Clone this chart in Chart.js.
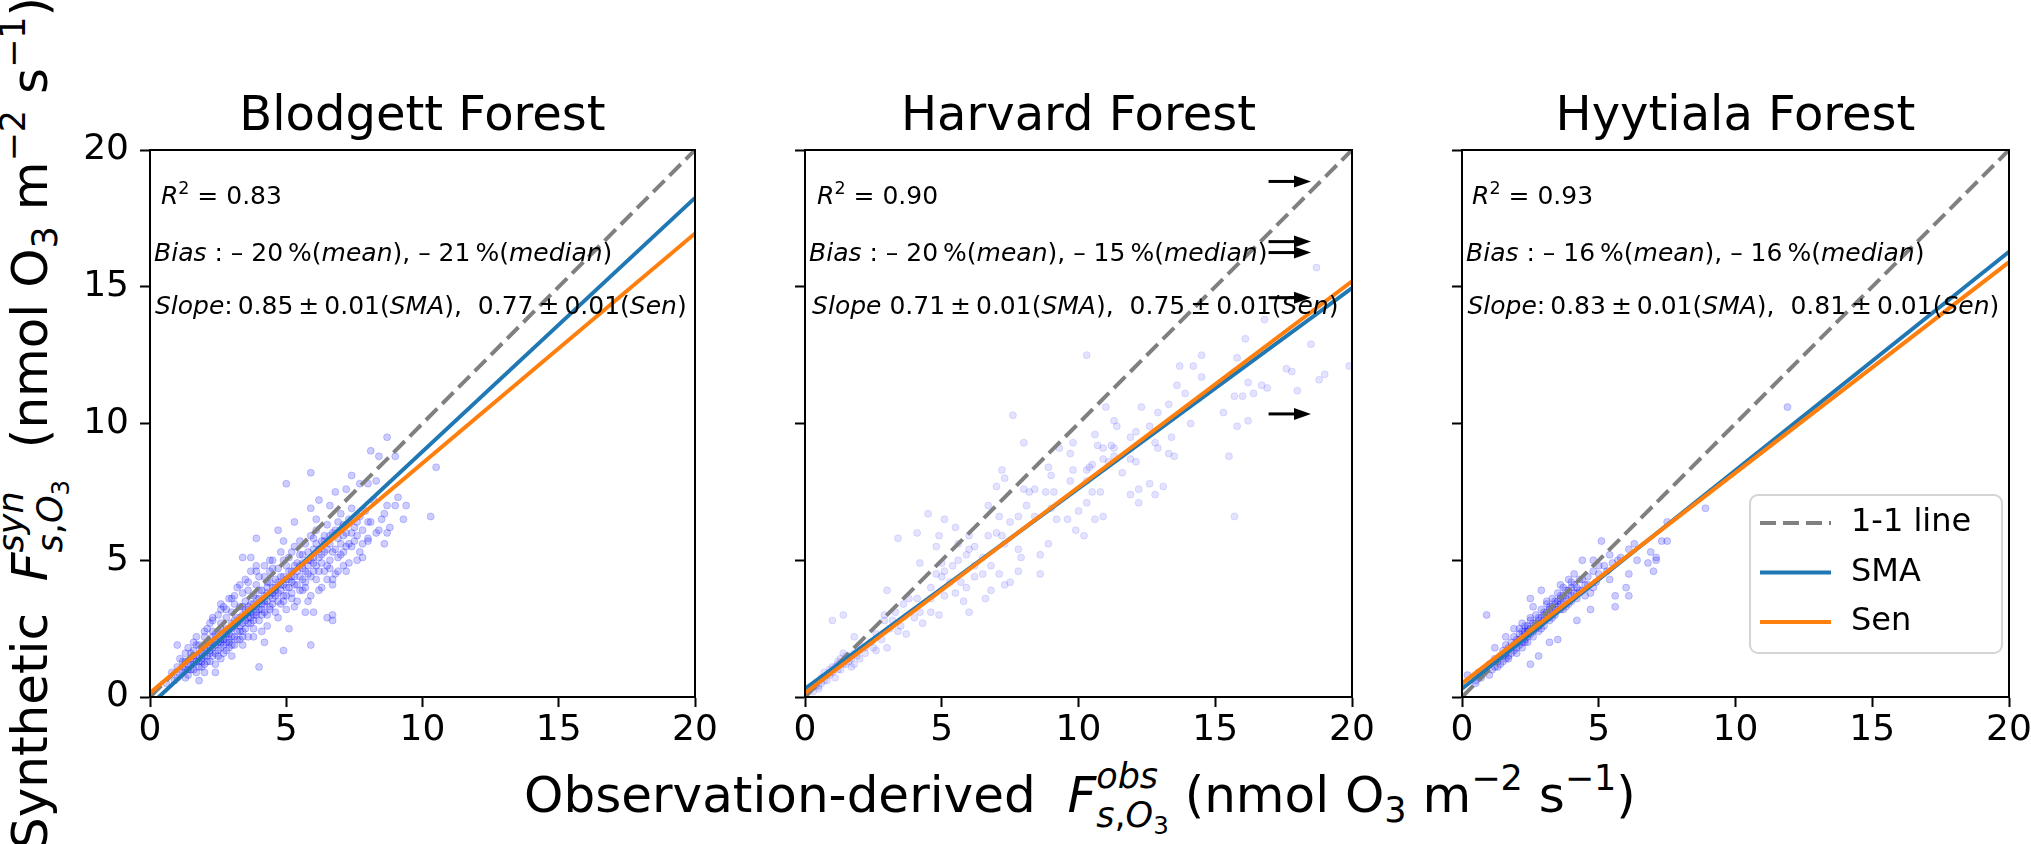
<!DOCTYPE html>
<html>
<head>
<meta charset="utf-8">
<script src="https://cdn.jsdelivr.net/npm/chart.js@4.4.1/dist/chart.umd.min.js"></script>
<style>
  html, body { margin: 0; padding: 0; background: #fff; }
  #fig { position: relative; width: 2031px; height: 844px; overflow: hidden; font-family: "DejaVu Sans"; color: #000; }
  #fig canvas { position: absolute; top: 0; }
  .lab { position: absolute; white-space: nowrap; font-size: 50px; line-height: 60px; height: 60px; transform: translate(-50%, -50%); }
  #ylab { transform: translate(-50%, -50%) rotate(-90deg); }
  .stk { display: inline-block; position: relative; font-size: .7em; line-height: 0; vertical-align: baseline; }
  .stk .u, .stk .d { display: block; position: relative; line-height: 0; }
  .stk .u { top: -.68em; }
  .stk .d { top: .42em; }
  .sb { font-size: .7em; position: relative; top: .28em; }
  .sp { font-size: .7em; position: relative; top: -.62em; }
</style>
</head>
<body>
<div id="fig">
  <div class="lab" id="xlab" style="left:1080px; top:795px;">Observation-derived&nbsp;&nbsp;<i>F</i><span class="stk"><span class="u"><i>obs</i></span><span class="d"><i>s</i>,<i>O</i><span class="sb">3</span></span></span>&nbsp;(nmol O<span class="sb">3</span> m<span class="sp">−2</span> s<span class="sp">−1</span>)</div>
  <div class="lab" id="ylab" style="left:30px; top:423px;">Synthetic&nbsp;&nbsp;<i>F</i><span class="stk"><span class="u"><i>syn</i></span><span class="d"><i>s</i>,<i>O</i><span class="sb">3</span></span></span>&nbsp;&nbsp;(nmol O<span class="sb">3</span> m<span class="sp">−2</span> s<span class="sp">−1</span>)</div>
</div>
<script>
// sites and stats printed in each panel
const siteNames = ['Blodgett Forest', 'Harvard Forest', 'Hyytiala Forest'];
const axisTicks = [0, 5, 10, 15, 20];
const r2Values = ['0.83', '0.90', '0.93'];
const biasMean = ['20', '20', '16'];
const biasMedian = ['21', '15', '16'];
const slopeSMA = ['0.85', '0.71', '0.83'];
const slopeSen = ['0.77', '0.75', '0.81'];
const slopeErr = ['0.01', '0.01', '0.01'];
const legendLabels = ['1-1 line', 'SMA', 'Sen'];

// fitted lines, end points [obs, syn]
const oneToOne = [[0, 0], [20, 20]];
const blodgettSMA = [[0, -0.3], [20, 18.25]];
const blodgettSen = [[0, 0.15], [20, 16.95]];
const harvardSMA = [[0, 0.3], [20, 14.95]];
const harvardSen = [[0, 0.15], [20, 15.2]];
const hyytialaSMA = [[0, 0.3], [20, 16.28]];
const hyytialaSen = [[0, 0.5], [20, 15.9]];

// Harvard points beyond the x range, marked with arrows
const harvardArrowY = [18.85, 16.65, 16.25, 14.6, 10.35];
const harvardArrowX = [16.95, 18.5];

const blodgettPoints = [
  [8.7,9.5],[8.1,9.0],[8.4,8.8],[9.0,8.8],[5.9,8.2],[5.0,7.8],[10.5,8.4],[10.3,6.6],[9.4,7.0],[9.3,6.5],
  [9.1,7.3],[8.7,7.0],[8.3,7.9],[8.0,7.8],[7.4,8.1],[7.7,7.8],[7.2,7.6],[6.8,7.5],[6.2,7.2],[5.9,6.9],
  [6.1,6.5],[6.6,7.0],[3.9,5.8],[4.7,6.1],[5.3,6.4],[4.9,5.7],[3.4,5.1],[3.7,5.1],[3.9,4.8],[6.7,4.1],
  [6.5,4.3],[6.9,4.6],[7.6,5.0],[7.1,4.8],[6.5,2.9],[6.7,3.0],[6.7,2.8],[6.0,3.1],[5.7,3.1],[5.1,2.5],
  [5.9,1.9],[4.9,1.7],[4.0,1.1],[4.2,2.0],[1.8,0.6],[1.0,1.9],[2.0,0.9],[2.4,0.9],[8.6,5.6],[8.0,5.7],
  [8.4,6.1],[8.7,6.0],[8.0,6.4],[8.5,6.5],[7.3,5.6],[7.8,5.1],
  [0.6,0.5],[0.8,0.9],[0.9,0.6],[1.0,1.1],[1.1,0.8],[1.2,1.3],[1.2,0.9],[1.3,1.0],[1.3,1.6],[1.4,1.2],
  [1.4,0.8],[1.5,1.4],[1.5,1.0],[1.6,1.7],[1.6,1.2],[1.7,1.5],[1.7,0.9],[1.8,1.9],[1.8,1.3],[1.9,1.6],
  [1.9,1.1],[2.0,2.2],[2.0,1.5],[2.0,1.8],[2.1,1.3],[2.1,2.5],[2.2,1.7],[2.2,2.0],[2.3,1.5],[2.3,2.8],
  [2.3,2.2],[2.4,1.9],[2.4,1.2],[2.5,2.4],[2.5,3.0],[2.5,1.7],[2.6,2.1],[2.6,2.7],[2.7,1.6],[2.7,2.3],
  [2.7,3.3],[2.8,2.0],[2.8,2.9],[2.9,2.5],[2.9,1.8],[2.9,3.6],[3.0,2.2],[3.0,3.1],[3.0,2.7],[3.1,1.9],
  [3.1,3.4],[3.2,2.4],[3.2,2.9],[3.2,4.0],[3.3,2.6],[3.3,3.3],[3.3,2.1],[3.4,3.0],[3.4,3.8],[3.4,2.4],
  [3.5,2.8],[3.5,3.5],[3.5,4.3],[3.6,3.1],[3.6,2.2],[3.6,3.9],[3.7,2.7],[3.7,3.4],[3.7,4.6],[3.8,3.0],
  [3.8,3.7],[3.8,2.5],[3.9,4.1],[3.9,3.3],[4.0,2.8],[4.0,3.6],[4.0,4.4],[4.1,3.2],[4.1,3.9],[4.1,2.4],
  [4.2,4.8],[4.2,3.5],[4.3,3.0],[4.3,4.2],[4.3,3.8],[4.4,4.6],[4.4,3.3],[4.5,4.0],[4.5,3.6],[4.5,5.0],
  [4.6,4.3],[4.6,3.1],[4.7,3.8],[4.7,4.7],[4.8,4.1],[4.8,3.4],[4.8,5.3],[4.9,4.4],[4.9,3.7],[5.0,4.8],
  [5.0,4.0],[5.0,3.2],[5.1,5.1],[5.1,4.3],[5.2,3.8],[5.2,4.6],[5.3,5.5],[5.3,4.1],[5.4,4.9],[5.4,3.5],
  [5.5,4.4],[5.5,5.2],[5.6,4.7],[5.6,3.9],[5.7,5.6],[5.7,4.2],[5.8,5.0],[5.8,4.5],[5.9,5.9],[5.9,3.7],
  [6.0,4.9],[6.0,5.4],[6.1,4.3],[6.1,6.1],[6.2,5.1],[6.2,4.6],[6.3,5.7],[6.3,4.0],[6.4,5.3],[6.5,6.3],
  [6.5,4.8],[6.6,5.6],[6.6,5.0],[6.7,6.0],[6.8,5.4],[6.8,4.5],[6.9,6.4],[6.9,5.8],[7.0,5.2],[7.0,6.7],
  [7.1,5.9],[7.2,5.5],[7.2,6.3],[7.3,4.9],[7.4,6.0],[7.4,6.9],[7.5,5.7],[7.6,6.4],[7.7,5.3],[7.8,6.1],
  [7.9,6.8],[8.0,5.8],[8.1,6.4],[8.2,7.2],[8.3,6.0],[8.6,6.7],[8.8,6.2],[9.0,7.0],
  [2.2,1.6],[2.6,2.0],[2.8,2.3],[3.1,2.6],[3.4,2.7],[3.6,2.9],[3.9,3.1],[4.2,3.4],[4.4,3.7],[2.4,2.1],
  [1.9,1.4],[2.9,2.1],[3.5,3.2],[4.6,3.9],[5.2,4.4],[5.6,4.9],[6.4,5.7],[7.1,6.3],[6.0,5.8],[5.5,5.7],
  [4.4,5.0],[3.0,3.6],[2.6,3.2],[2.2,2.7],[1.6,2.0],
  [1.2,1.1],[1.3,1.3],[1.4,1.0],[1.5,1.6],[1.5,1.2],[1.6,1.0],[1.6,1.5],[1.7,1.3],[1.7,1.9],[1.8,1.1],
  [1.8,1.5],[1.9,1.8],[1.9,1.3],[2.0,1.2],[2.0,1.7],[2.1,2.0],[2.1,1.5],[2.2,1.3],[2.2,1.9],[2.3,1.8],
  [2.3,2.4],[2.4,1.6],[2.4,2.3],[2.5,2.0],[2.5,1.5],[2.6,1.8],[2.6,2.5],[2.7,2.1],[2.7,1.9],[2.8,2.5],
  [2.8,1.7],[2.9,2.3],[2.9,2.0],[3.0,2.5],[3.0,1.9],[3.1,2.2],[3.1,2.8],[3.2,2.1],[3.2,2.7],[3.3,2.4],
  [3.3,2.9],[3.4,2.2],[3.4,3.3],[3.5,2.5],[3.5,3.0],[3.6,2.7],[3.6,3.3],[3.7,2.9],[3.7,3.1],[3.8,2.8],
  [3.8,3.4],[3.9,3.0],[3.9,3.6],[4.0,3.2],[4.0,3.9],[4.1,3.4],[4.1,3.0],[4.2,3.7],[4.2,3.1],[4.3,3.5],
  [4.3,4.0],[4.4,3.2],[4.4,4.2],[4.5,3.8],[4.5,3.4],[4.6,4.0],[4.6,3.7],[4.7,4.2],[4.7,3.5],[4.8,3.9],
  [4.8,4.4],[4.9,4.1],[4.9,3.5],[5.0,4.3],[5.0,3.7],[5.1,4.0],[5.1,4.6],[5.2,4.2],[5.2,3.6],[5.3,4.4],
  [5.3,4.8],[5.4,4.1],[5.4,4.6],[5.5,3.9],[5.5,4.8],[5.6,4.3],[5.6,5.2],[5.7,4.6],[5.7,4.0],[5.8,4.8],
  [5.8,5.3],[5.9,4.4],[5.9,5.0],[6.0,4.6],[6.0,5.1],[6.1,4.8],[6.1,5.6],[6.2,5.4],[6.3,4.9],[6.3,5.2],
  [6.4,4.6],[6.4,5.9],[6.5,5.4],[6.6,5.9],[6.6,4.7],[6.7,5.3],[6.8,6.1],[6.9,5.1],[7.0,5.6],[7.1,5.3],
  [7.2,6.0],[7.3,6.5],[7.4,5.5],[7.5,6.2],[7.6,5.9],[7.7,6.6],[7.8,5.6],[2.0,2.4],[2.3,2.9],[2.6,3.4],
  [2.8,3.2],[3.1,3.7],[3.3,4.1],[3.6,4.2],[3.9,4.6],[4.2,4.4],[4.5,4.7],[4.9,5.0],[5.2,5.3],[1.1,1.4],
  [1.4,1.8],[1.7,2.2],[1.0,0.7],[1.3,0.7],[2.6,1.4],[3.0,1.5],[3.4,1.9],[3.8,2.2],[4.3,2.6],[4.7,2.9],
  [5.3,3.3],[5.8,3.5],[6.2,3.9],[6.7,4.3],[7.2,4.6]
];
const harvardPoints = [
  [18.7,15.7],[16.8,13.8],[16.1,13.1],[18.5,12.9],[19.9,12.1],[19.0,11.8],[18.8,11.6],[17.6,12.0],[17.8,11.9],[16.7,11.4],
  [16.9,11.3],[16.4,11.1],[15.7,11.0],[16.0,11.0],[16.2,11.5],[18.0,11.2],[15.8,12.4],[14.5,12.5],[14.2,12.1],[14.5,11.7],
  [13.7,12.1],[13.6,11.4],[13.9,11.1],[13.3,10.7],[12.3,10.6],[12.9,10.4],[15.3,10.4],[15.8,9.9],[16.2,10.1],[14.1,10.0],
  [15.5,8.8],[15.7,6.6],[13.4,9.5],[13.3,8.9],[13.5,8.8],[12.9,9.1],[12.6,9.9],[12.8,9.3],[12.1,9.7],[11.9,9.5],
  [12.1,8.6],[11.9,8.7],[11.6,8.2],[12.6,7.8],[13.1,7.7],[12.8,7.4],[12.2,7.1],[11.9,7.4],[12.2,7.6],[11.0,10.6],
  [11.3,10.1],[11.4,9.9],[10.3,12.5],[7.6,10.3],[8.0,9.3],[10.6,9.6],[10.7,9.2],[10.9,9.1],[11.2,9.2],[11.3,9.1],
  [11.3,8.8],[11.1,8.6],[10.9,8.7],[10.5,8.5],[10.4,8.4],[10.3,8.3],[9.8,9.3],[9.7,8.9],[9.3,9.1],[9.8,8.3],
  [9.7,7.9],[8.9,8.4],[9.0,8.1],[8.4,7.6],[8.0,7.6],[8.2,7.5],[8.8,7.5],[9.1,7.5],[7.2,8.3],[7.3,8.0],
  [7.0,7.7],[8.1,7.0],[7.8,6.6],[8.4,6.6],[9.0,6.9],[9.2,6.5],[9.6,6.5],[10.0,6.8],[10.3,7.1],[9.9,6.1],
  [10.2,5.9],[10.6,6.5],[10.9,6.6],[10.8,7.5],[10.5,7.5],[10.3,7.9],[8.9,5.6],[8.6,5.2],[8.6,4.5],[7.9,5.1],
  [7.8,4.6],[7.5,4.2],[7.3,4.1],[7.8,5.4],[7.3,5.6],[7.2,5.9],[7.5,6.4],[7.0,6.0],[6.7,7.0],[7.1,6.6],
  [6.7,5.9],[6.8,3.9],[6.6,3.6],[7.1,4.5],[6.5,4.5],[6.2,5.5],[6.0,5.9],[5.9,5.2],[5.6,5.0],[5.8,3.5],
  [5.9,4.0],[6.0,3.1],[5.5,3.8],[5.3,4.2],[5.1,4.6],[4.9,5.9],[4.5,6.7],[4.1,6.0],[3.4,5.8],[5.1,6.5],
  [5.5,6.2],[4.8,5.5],[4.2,4.9],[4.6,4.0],[4.9,3.0],[4.3,2.7],[4.6,3.1],[4.2,3.1],[4.1,3.6],[3.8,3.6],
  [3.5,2.6],[3.7,2.3],[3.4,2.4],[3.1,2.5],[3.0,3.9],[2.9,2.8],[2.6,2.3],[2.8,2.1],[3.0,1.8],[2.6,1.7],
  [2.2,1.6],[2.0,1.9],[1.8,2.2],[1.4,3.0],[1.0,2.8],[1.7,1.4],[1.4,1.2],[1.2,1.0],[1.1,0.7],[0.8,0.8],
  [0.6,0.5],[0.4,0.4],[0.3,0.2],[1.5,1.5],[1.3,1.4],[1.2,1.2],[1.0,0.9],[1.7,1.1],[0.7,0.6],[0.5,0.4],
  [1.8,1.2],[2.0,1.4],[2.4,2.0],[2.5,1.8],[2.2,1.8],[3.2,2.8],[3.3,3.1],[3.6,3.4],[2.9,3.0],[4.0,2.9],
  [4.6,3.6],[5.1,3.7],[4.8,4.5],[5.4,4.8],[5.7,4.2],[6.2,4.4],[6.5,5.1],[6.8,4.8],[6.2,4.8],[5.6,5.6],
  [6.0,5.4],[5.0,4.4],[5.0,4.9],
  [0.2,0.3],[0.4,0.5],[0.6,0.7],[0.8,0.6],[0.9,1.0],[1.1,1.1],[1.3,1.0],[1.4,1.6],[1.6,1.5],[0.5,0.3],
  [0.3,0.4],[0.9,0.8],[1.2,1.3],[1.5,1.2],[1.6,1.3],[1.8,1.6],[1.9,1.5],[1.0,1.1],[0.7,0.9]
];
const hyytialaPoints = [
  [8.9,6.9],[7.5,6.4],[7.3,5.7],[7.5,5.7],[7.1,5.1],[7.1,5.0],[6.9,5.3],[6.8,4.9],[7.0,4.6],[6.4,5.0],
  [6.1,4.5],[6.1,5.4],[5.1,5.7],[5.4,5.2],[5.7,5.0],[6.0,4.0],[6.1,3.7],[5.6,3.7],[5.6,3.3],[4.7,3.2],
  [4.4,5.0],[4.8,5.0],[4.1,4.5],[3.9,4.3],[3.6,4.1],[2.9,3.9],[2.5,3.6],[2.6,3.3],[0.9,3.0],[4.2,2.8],
  [3.5,2.1],[3.2,2.0],[2.8,1.5],[2.5,1.2],[0.2,0.8],[0.5,0.5],[1.0,0.8],[1.2,1.8],[1.6,2.2],[1.9,2.5],
  [2.2,2.7],[11.9,10.6],
  [1.0,1.2],[1.1,1.0],[1.2,1.4],[1.3,1.1],[1.4,1.5],[1.5,1.3],[1.5,1.7],[1.6,1.4],[1.7,1.8],[1.7,1.5],
  [1.8,1.6],[1.8,2.0],[1.9,1.7],[1.9,2.2],[2.0,1.8],[2.0,2.1],[2.1,1.9],[2.1,2.3],[2.2,2.0],[2.2,2.4],
  [2.3,2.1],[2.3,2.6],[2.4,2.2],[2.4,2.5],[2.5,2.3],[2.5,2.8],[2.6,2.4],[2.6,2.7],[2.7,2.5],[2.7,3.0],
  [2.8,2.6],[2.8,2.9],[2.9,2.7],[2.9,3.2],[3.0,2.8],[3.0,3.1],[3.1,2.9],[3.1,3.4],[3.2,3.0],[3.2,3.3],
  [3.3,3.1],[3.3,3.6],[3.4,3.2],[3.4,3.5],[3.5,3.3],[3.5,3.8],[3.6,3.4],[3.6,3.7],[3.7,3.5],[3.7,4.0],
  [3.8,3.6],[3.9,3.9],[3.9,3.4],[4.0,3.7],[4.0,4.2],[4.1,3.8],[4.2,4.0],[4.2,3.6],[4.3,4.3],[4.4,3.9],
  [4.5,4.1],[4.6,4.4],[4.7,3.8],[4.8,4.6],[4.9,4.2],[5.0,4.5],[5.2,4.8],[5.4,4.3],[0.5,0.6],[0.7,0.7],
  [0.8,1.0],[0.6,0.9],[2.3,2.3],[2.5,2.5],[2.4,2.4],
  [1.3,1.3],[1.4,1.2],[1.5,1.5],[1.6,1.6],[1.7,1.4],[1.8,1.8],[1.9,1.9],[2.0,2.0],[2.0,1.6],[2.1,2.1],
  [2.2,2.2],[2.2,1.8],[2.3,2.4],[2.4,2.0],[2.4,2.6],[2.5,2.4],[2.6,2.5],[2.6,2.2],[2.7,2.7],[2.8,2.4],
  [2.8,2.8],[2.9,2.9],[3.0,2.6],[3.0,3.0],[3.1,3.1],[3.2,2.8],[3.2,3.2],[3.3,3.3],[3.4,3.0],[3.4,3.4],
  [3.5,3.5],[3.6,3.2],[3.6,3.6],[3.7,3.7],[3.8,3.3],[3.8,3.9],[3.9,3.7],[4.0,3.5],[4.1,4.1],[4.2,3.8],
  [4.3,3.9],[4.4,4.3],[4.5,3.7],[4.6,4.1],[4.8,4.0],[5.0,4.8],[5.3,4.6],[5.5,4.9],[5.8,5.1],[6.3,5.6],
  [1.2,1.1],[1.6,1.9],[2.1,2.5],[2.5,2.9],[3.1,3.5],[3.3,2.9],[3.7,3.2],[4.0,4.0],[2.9,2.5],[2.3,2.0]
];

const sitePoints = [blodgettPoints, harvardPoints, hyytialaPoints];
const siteSMA = [blodgettSMA, harvardSMA, hyytialaSMA];
const siteSen = [blodgettSen, harvardSen, hyytialaSen];

const FONT = 'DejaVu Sans';
const toXY = arr => arr.map(([x, y]) => ({x, y}));

// text lines: [text, style] runs, style n = normal, i = italic, sup = superscript
function statRuns(i) {
  const M = '\u2013', T = '\u2009';
  return [
    [['R', 'i'], ['2', 'sup'], [' = ' + r2Values[i], 'n']],
    [['Bias', 'i'], [' : ' + M + ' ' + biasMean[i] + T + '%(', 'n'], ['mean', 'i'],
     ['), ' + M + ' ' + biasMedian[i] + T + '%(', 'n'], ['median', 'i'], [')', 'n']],
    [['Slope', 'i'], [(i === 1 ? ' ' : ':' + T) + slopeSMA[i] + T + '±' + T + slopeErr[i] + '(', 'n'], ['SMA', 'i'],
     ['),  ' + slopeSen[i] + T + '±' + T + slopeErr[i] + '(', 'n'], ['Sen', 'i'], [')', 'n']],
  ];
}

function drawRuns(ctx, x, cy, runs, size) {
  const base = cy + 0.36 * size;
  ctx.textBaseline = 'alphabetic';
  ctx.textAlign = 'left';
  for (const [t, st] of runs) {
    let fs = size, dy = 0;
    if (st === 'sup') { fs = size * 0.7; dy = -size * 0.42; }
    ctx.font = (st === 'i' ? 'italic ' : '') + fs + 'px "' + FONT + '"';
    ctx.fillText(t, x, base + dy);
    x += ctx.measureText(t).width;
  }
}

// box round the plot area, like matplotlib spines
const frame = {
  id: 'frame',
  afterDatasetsDraw(chart) {
    const {ctx, chartArea: a} = chart;
    ctx.save();
    ctx.strokeStyle = '#000';
    ctx.lineWidth = 2;
    ctx.strokeRect(a.left, a.top, a.right - a.left, a.bottom - a.top);
    ctx.restore();
  }
};

const statText = {
  id: 'statText',
  afterDatasetsDraw(chart, args, opts) {
    const {ctx, scales: {x, y}} = chart;
    ctx.save();
    ctx.fillStyle = '#000';
    opts.lines.forEach((runs, k) => {
      drawRuns(ctx, x.getPixelForValue(opts.xs[k]), y.getPixelForValue(opts.ys[k]), runs, opts.size);
    });
    ctx.restore();
  }
};

const arrows = {
  id: 'arrows',
  afterDatasetsDraw(chart, args, opts) {
    if (!opts.ys) return;
    const {ctx, scales: {x, y}} = chart;
    const xa = x.getPixelForValue(opts.x[0]), xb = x.getPixelForValue(opts.x[1]);
    ctx.save();
    ctx.strokeStyle = '#000';
    ctx.fillStyle = '#000';
    ctx.lineWidth = 3;
    opts.ys.forEach(v => {
      const py = y.getPixelForValue(v);
      ctx.beginPath();
      ctx.moveTo(xa, py);
      ctx.lineTo(xb - 12, py);
      ctx.stroke();
      ctx.beginPath();
      ctx.moveTo(xb, py);
      ctx.lineTo(xb - 17, py - 6);
      ctx.lineTo(xb - 17, py + 6);
      ctx.closePath();
      ctx.fill();
    });
    ctx.restore();
  }
};

// matplotlib style legend box inside the plot
const legendBox = {
  id: 'legendBox',
  afterDatasetsDraw(chart, args, opts) {
    if (!opts.show) return;
    const {ctx, chartArea: a} = chart;
    const w = 252, h = 158;
    const x0 = a.right - 7 - w, y0 = a.bottom - 44 - h;
    ctx.save();
    ctx.fillStyle = 'rgba(255,255,255,0.8)';
    ctx.strokeStyle = '#d4d4d4';
    ctx.lineWidth = 2;
    ctx.beginPath();
    ctx.roundRect(x0, y0, w, h, 8);
    ctx.fill();
    ctx.stroke();
    legendLabels.forEach((label, k) => {
      const ds = chart.data.datasets.find(d => d.label === label);
      const cy = y0 + 28 + k * 49.5;
      ctx.strokeStyle = ds.borderColor;
      ctx.lineWidth = ds.borderWidth;
      ctx.setLineDash(ds.borderDash || []);
      ctx.beginPath();
      ctx.moveTo(x0 + 10, cy);
      ctx.lineTo(x0 + 81, cy);
      ctx.stroke();
      ctx.setLineDash([]);
      ctx.fillStyle = '#000';
      ctx.font = '32px "' + FONT + '"';
      ctx.textBaseline = 'middle';
      ctx.fillText(label, x0 + 101, cy);
    });
    ctx.restore();
  }
};

// canvas placement so the three plot boxes land where they are in the figure
const panels = [
  {left: 0, width: 720, axisW: 150, padR: 25, alpha: 0.2, textX: [0.4, 0.15, 0.18]},
  {left: 730, width: 650, axisW: 75, padR: 28, alpha: 0.11, textX: [0.44, 0.15, 0.26]},
  {left: 1390, width: 641, axisW: 72, padR: 22, alpha: 0.2, textX: [0.37, 0.15, 0.2]},
];
const tickFont = {family: FONT, size: 36};
const fig = document.getElementById('fig');

siteNames.forEach((name, i) => {
  const p = panels[i];
  const cv = document.createElement('canvas');
  cv.width = p.width;
  cv.height = 844;
  cv.style.left = p.left + 'px';
  fig.appendChild(cv);
  const dot = 'rgba(0,0,255,' + p.alpha + ')';

  new Chart(cv, {
    type: 'scatter',
    data: {
      datasets: [
        { label: 'Sen', data: toXY(siteSen[i]), showLine: true, borderColor: '#ff7f0e', borderWidth: 4, pointRadius: 0, clip: 0 },
        { label: 'SMA', data: toXY(siteSMA[i]), showLine: true, borderColor: '#1f77b4', borderWidth: 4, pointRadius: 0, clip: 0 },
        { label: '1-1 line', data: toXY(oneToOne), showLine: true, borderColor: '#808080', borderWidth: 4, borderDash: [16, 7], pointRadius: 0, clip: 0 },
        { label: 'points', data: toXY(sitePoints[i]), pointRadius: 3.5, pointBorderWidth: 1,
          pointBackgroundColor: dot, pointBorderColor: dot, clip: 0 },
      ]
    },
    options: {
      responsive: false,
      animation: false,
      events: [],
      layout: { padding: { top: 0, left: 0, right: p.padR, bottom: 87 } },
      scales: {
        x: {
          type: 'linear', min: 0, max: 20,
          afterBuildTicks: s => { s.ticks = axisTicks.map(v => ({value: v})); },
          afterFit: s => { s.height = 60; s.paddingLeft = 0; s.paddingRight = 0; },
          ticks: { font: tickFont, color: '#000', padding: 2, maxRotation: 0, autoSkip: false },
          grid: { drawOnChartArea: false, tickLength: 10, tickWidth: 2, tickColor: '#000' },
          border: { display: true, color: '#000', width: 2 },
        },
        y: {
          type: 'linear', min: 0, max: 20,
          afterBuildTicks: s => { s.ticks = axisTicks.map(v => ({value: v})); },
          afterFit: s => { s.width = p.axisW; s.paddingTop = 0; s.paddingBottom = 0; },
          ticks: { font: tickFont, color: '#000', padding: 11, autoSkip: false,
                   callback: v => (i === 0 ? String(v) : '') },
          grid: { drawOnChartArea: false, tickLength: 10, tickWidth: 2, tickColor: '#000' },
          border: { display: true, color: '#000', width: 2 },
        }
      },
      plugins: {
        legend: { display: false },
        tooltip: { enabled: false },
        title: { display: true, fullSize: false, text: name, color: '#000',
                 font: {family: FONT, size: 48, weight: 'normal'}, padding: {top: 89, bottom: 3.4} },
        statText: { lines: statRuns(i), xs: p.textX, ys: [18.35, 16.27, 14.33], size: 25 },
        arrows: i === 1 ? { ys: harvardArrowY, x: harvardArrowX } : {},
        legendBox: { show: i === 2 },
      }
    },
    plugins: [frame, statText, arrows, legendBox]
  });
});
</script>
</body>
</html>
